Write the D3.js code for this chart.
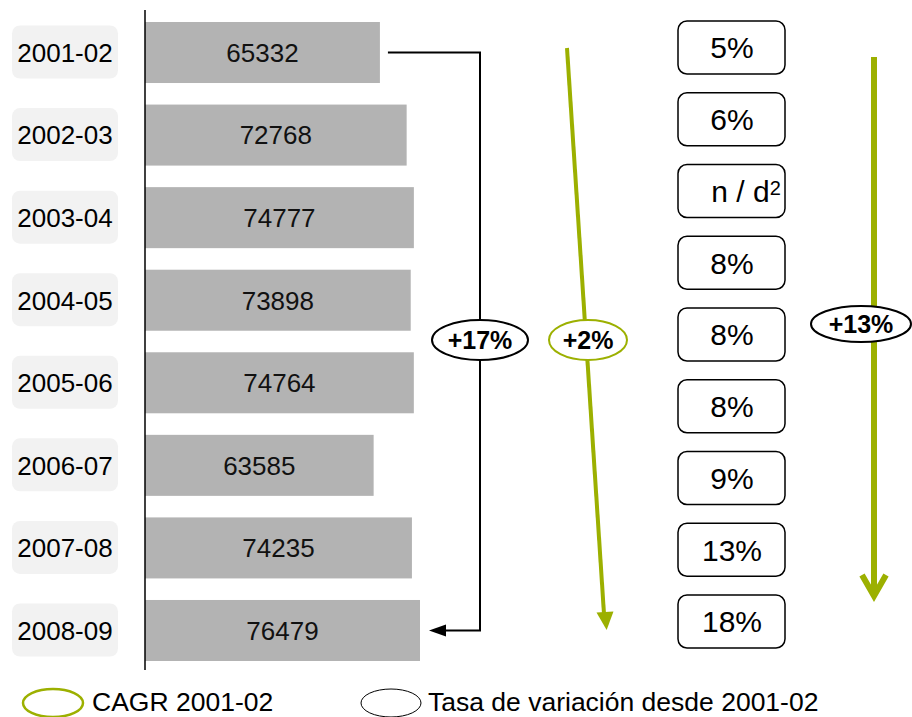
<!DOCTYPE html>
<html><head><meta charset="utf-8">
<script src="https://cdn.jsdelivr.net/npm/d3@7/dist/d3.min.js"></script>
<style>body{margin:0;background:#fff}svg{display:block;font-family:"Liberation Sans",Arial,sans-serif}</style>
</head><body><svg id="c" width="912" height="717"></svg>
<script>
const years = ["2001-02","2002-03","2003-04","2004-05","2005-06","2006-07","2007-08","2008-09"];
const values = [65332,72768,74777,73898,74764,63585,74235,76479];
const rates = ["5%","6%","n / d","8%","8%","8%","9%","13%","18%"];
const rateNotes = ["","","2","","","","","",""];
const changeLabel = "+17%";
const cagrLabel = "+2%";
const rateChangeLabel = "+13%";
const legendLabels = ["CAGR 2001-02","Tasa de variación desde 2001-02"];

const green = "#9cb000";
const svg = d3.select("#c");

const x = d3.scaleLinear().domain([0, 76479]).range([145, 420]);
const y = d3.scaleBand().domain(years).range([22, 661]).paddingInner(0.261).paddingOuter(0);
const yr = d3.scaleBand().domain(d3.range(rates.length)).range([21, 648]).paddingInner(0.261).paddingOuter(0);

// category label boxes
const cat = svg.append("g");
cat.selectAll("rect").data(years).join("rect")
  .attr("x", 12).attr("width", 106)
  .attr("y", d => y(d) + y.bandwidth()/2 - 27).attr("height", 53)
  .attr("rx", 8).attr("fill", "#f2f2f2");
cat.selectAll("text").data(years).join("text")
  .attr("x", 65).attr("y", d => y(d) + y.bandwidth()/2)
  .attr("dy", "0.36em").attr("text-anchor", "middle")
  .attr("font-size", 26).attr("fill", "#000").text(d => d);

// bars
const bars = svg.append("g");
bars.selectAll("rect").data(values).join("rect")
  .attr("x", x(0)).attr("y", (d,i) => y(years[i]))
  .attr("width", d => x(d) - x(0)).attr("height", y.bandwidth())
  .attr("fill", "#b3b3b3");
bars.selectAll("text").data(values).join("text")
  .attr("x", d => (x(0) + x(d))/2).attr("y", (d,i) => y(years[i]) + y.bandwidth()/2)
  .attr("dy", "0.36em").attr("text-anchor", "middle")
  .attr("font-size", 26).attr("fill", "#111").text(d => d);

// axis line
svg.append("line").attr("x1", 145).attr("x2", 145).attr("y1", 10).attr("y2", 670)
  .attr("stroke", "#000").attr("stroke-width", 1.5);

// black bracket arrow
const yTop = y(years[0]) + y.bandwidth()/2;
const yBot = y(years[years.length-1]) + y.bandwidth()/2;
svg.append("path")
  .attr("d", `M${x(values[0])+8},${yTop}H480V${yBot}H440`)
  .attr("fill", "none").attr("stroke", "#000").attr("stroke-width", 2);
svg.append("path")
  .attr("d", `M429,${yBot}L446,${yBot-6}L446,${yBot+6}Z`).attr("fill", "#000");

function badge(cx, cy, rx, ry, stroke, label) {
  svg.append("ellipse").attr("cx", cx).attr("cy", cy).attr("rx", rx).attr("ry", ry)
    .attr("fill", "#fff").attr("stroke", stroke).attr("stroke-width", 2);
  svg.append("text").attr("x", cx).attr("y", cy).attr("dy", "0.36em")
    .attr("text-anchor", "middle").attr("font-size", 25).attr("font-weight", "bold")
    .attr("fill", "#000").text(label);
}

// green slanted arrow
svg.append("line").attr("x1", 567).attr("y1", 48).attr("x2", 604).attr("y2", 614)
  .attr("stroke", green).attr("stroke-width", 4);
svg.append("path").attr("d", "M597,612L614,612L606,630Z").attr("fill", green)
  .attr("transform", "rotate(-3.7,605,620)");

// right vertical green arrow
svg.append("line").attr("x1", 874).attr("y1", 57).attr("x2", 874).attr("y2", 596)
  .attr("stroke", green).attr("stroke-width", 6);
svg.append("path").attr("d", "M862,575L874,596L886,575")
  .attr("fill", "none").attr("stroke", green).attr("stroke-width", 6)
  .attr("stroke-linejoin", "miter").attr("stroke-miterlimit", 10);

badge(480, 340, 48, 20, "#000", changeLabel);
badge(588, 340, 39, 20, green, cagrLabel);
badge(861, 324, 50, 18, "#000", rateChangeLabel);

// rate boxes
const rb = svg.append("g");
rb.selectAll("rect").data(rates).join("rect")
  .attr("x", 678).attr("width", 107)
  .attr("y", (d,i) => yr(i)).attr("height", yr.bandwidth())
  .attr("rx", 9).attr("fill", "#fff").attr("stroke", "#000").attr("stroke-width", 1.5);
const rt = rb.selectAll("text").data(rates).join("text")
  .attr("x", (d,i) => rateNotes[i] ? 746 : 732).attr("y", (d,i) => yr(i) + yr.bandwidth()/2)
  .attr("dy", "0.36em").attr("text-anchor", "middle")
  .attr("font-size", 30).attr("fill", "#000");
rt.append("tspan").text(d => d);
rt.append("tspan").attr("font-size", 20).attr("dy", -7).text((d,i) => rateNotes[i]);

// legend
svg.append("ellipse").attr("cx", 53).attr("cy", 703).attr("rx", 30).attr("ry", 14)
  .attr("fill", "none").attr("stroke", green).attr("stroke-width", 2.5);
svg.append("text").attr("x", 92).attr("y", 701).attr("dy", "0.36em")
  .attr("font-size", 26.5).attr("fill", "#000").text(legendLabels[0]);
svg.append("ellipse").attr("cx", 391).attr("cy", 703).attr("rx", 30).attr("ry", 14)
  .attr("fill", "none").attr("stroke", "#000").attr("stroke-width", 1);
svg.append("text").attr("x", 428).attr("y", 701).attr("dy", "0.36em")
  .attr("font-size", 26.5).attr("fill", "#000").text(legendLabels[1]);
</script></body></html>
